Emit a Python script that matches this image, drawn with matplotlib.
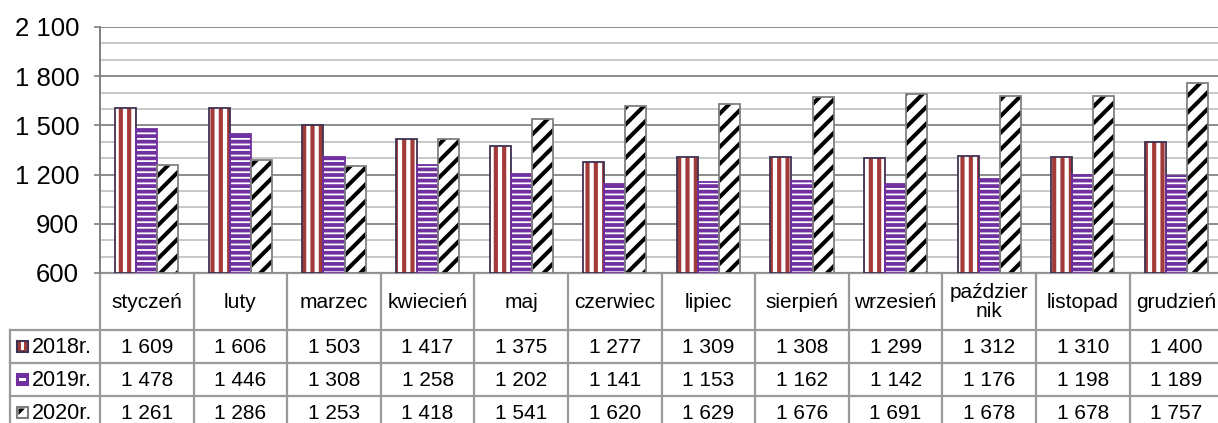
import matplotlib
matplotlib.use("Agg")
from matplotlib import pyplot as plt
from matplotlib.patches import Rectangle, Polygon
import numpy as np

plt.rcParams["font.family"] = ["Liberation Sans", "DejaVu Sans"]

months = ["styczeń", "luty", "marzec", "kwiecień", "maj", "czerwiec", "lipiec",
          "sierpień", "wrzesień", "paździer\nnik", "listopad", "grudzień"]
years = ["2018r.", "2019r.", "2020r."]
v2018 = [1609, 1606, 1503, 1417, 1375, 1277, 1309, 1308, 1299, 1312, 1310, 1400]
v2019 = [1478, 1446, 1308, 1258, 1202, 1141, 1153, 1162, 1142, 1176, 1198, 1189]
v2020 = [1261, 1286, 1253, 1418, 1541, 1620, 1629, 1676, 1691, 1678, 1678, 1757]
yticks = [600, 900, 1200, 1500, 1800, 2100]

# styl serii: hatch, kolor kreskowania, kolor obramowania, grubosc kreskowania
styles = [("||", "#a33a3a", "#3f3151", 3.0),
          ("---", "#7030a0", "#7030a0", 2.7),
          ("//", "black", "#7f7f7f", 2.9)]
series = [v2018, v2019, v2020]

W, H = 1218, 423
fig = plt.figure(figsize=(W / 100, H / 100), dpi=100)

# os tabeli w pikselach
tab = fig.add_axes([0, 0, 1, 1], zorder=0)
tab.set_xlim(0, W)
tab.set_ylim(H, 0)
tab.axis("off")

x0, ax_top, ax_bot = 100, 27, 273
colw = 93.6
ax = fig.add_axes([x0 / W, (H - ax_bot) / H, 12 * colw / W, (ax_bot - ax_top) / H], zorder=1)
ax.set_facecolor("none")

x = np.arange(len(months))
bw = 0.225
for k, (vals, (hatch, hc, ec, hlw)) in enumerate(zip(series, styles)):
    with plt.rc_context({"hatch.linewidth": hlw}):
        ax.bar(x + (k - 1) * bw, np.array(vals) - 600, bw, bottom=600, color="white",
               edgecolor=hc, linewidth=0, hatch=hatch, zorder=3)
    ax.bar(x + (k - 1) * bw, np.array(vals) - 600, bw, bottom=600, fill=False,
           edgecolor=ec, linewidth=1.3, zorder=4)

ax.set_xlim(-0.5, 11.5)
ax.set_ylim(600, 2100)
ax.set_yticks(yticks)
ax.set_yticklabels([f"{v:,}".replace(",", " ") for v in yticks], fontsize=18.5)
ax.set_yticks(np.arange(600, 2101, 100), minor=True)
ax.set_xticks([])
ax.tick_params(axis="y", which="major", length=4, width=1.2, color="#808080", pad=11)
ax.tick_params(axis="y", which="minor", length=0)
ax.grid(axis="y", which="minor", color="#c8c8c8", linewidth=1.4, zorder=0)
ax.grid(axis="y", which="major", color="#8c8c8c", linewidth=1.4, zorder=0)
for s in ["top", "right", "bottom"]:
    ax.spines[s].set_visible(False)
ax.spines["left"].set_color("#808080")
ax.spines["left"].set_linewidth(1.4)

# tabela
lc = "#9a9a9a"
rows_y = [273, 330, 363, 396, 429]
xr = x0 + 12 * colw
tab.plot([x0, xr], [273, 273], color=lc, lw=1.6)
for y in rows_y[1:]:
    tab.plot([10, xr], [y, y], color=lc, lw=1.6)
tab.plot([10, 10], [330, H], color=lc, lw=1.6)
for i in range(13):
    tab.plot([x0 + i * colw] * 2, [273, H], color=lc, lw=1.6)

for i, m in enumerate(months):
    tab.text(x0 + (i + 0.5) * colw, 302, m, ha="center", va="center",
             fontsize=15, linespacing=1.05)

# klucze legendy
def key(r, yc):
    kx, ky, s = 17, yc - 5.5, 11
    if r == 0:
        tab.add_patch(Rectangle((kx, ky), s, s, facecolor="#a33a3a", edgecolor="#3f3151", lw=1.5))
        tab.add_patch(Rectangle((kx + 4, ky + 1.5), 3, s - 3, facecolor="white", lw=0))
    elif r == 1:
        tab.add_patch(Rectangle((kx, ky), s, s, facecolor="#7030a0", edgecolor="#7030a0", lw=1.5))
        tab.add_patch(Rectangle((kx + 2, ky + 4), s - 4, 3, facecolor="white", lw=0))
    else:
        tab.add_patch(Rectangle((kx, ky), s, s, facecolor="white", edgecolor="#7f7f7f", lw=1.5))
        tab.add_patch(Polygon([(kx + 1.5, ky + 1.5), (kx + 8, ky + 1.5), (kx + 1.5, ky + 8)],
                              facecolor="black", lw=0))

for r, (yr, vals) in enumerate(zip(years, series)):
    yc = (rows_y[r + 1] + rows_y[r + 2]) / 2
    key(r, yc)
    tab.text(32, yc + 1, yr, ha="left", va="center", fontsize=15.5)
    for i, v in enumerate(vals):
        tab.text(x0 + (i + 0.5) * colw, yc + 1, f"{v:,}".replace(",", " "),
                 ha="center", va="center", fontsize=15)

plt.savefig("out.png", dpi=100)
plt.close()
